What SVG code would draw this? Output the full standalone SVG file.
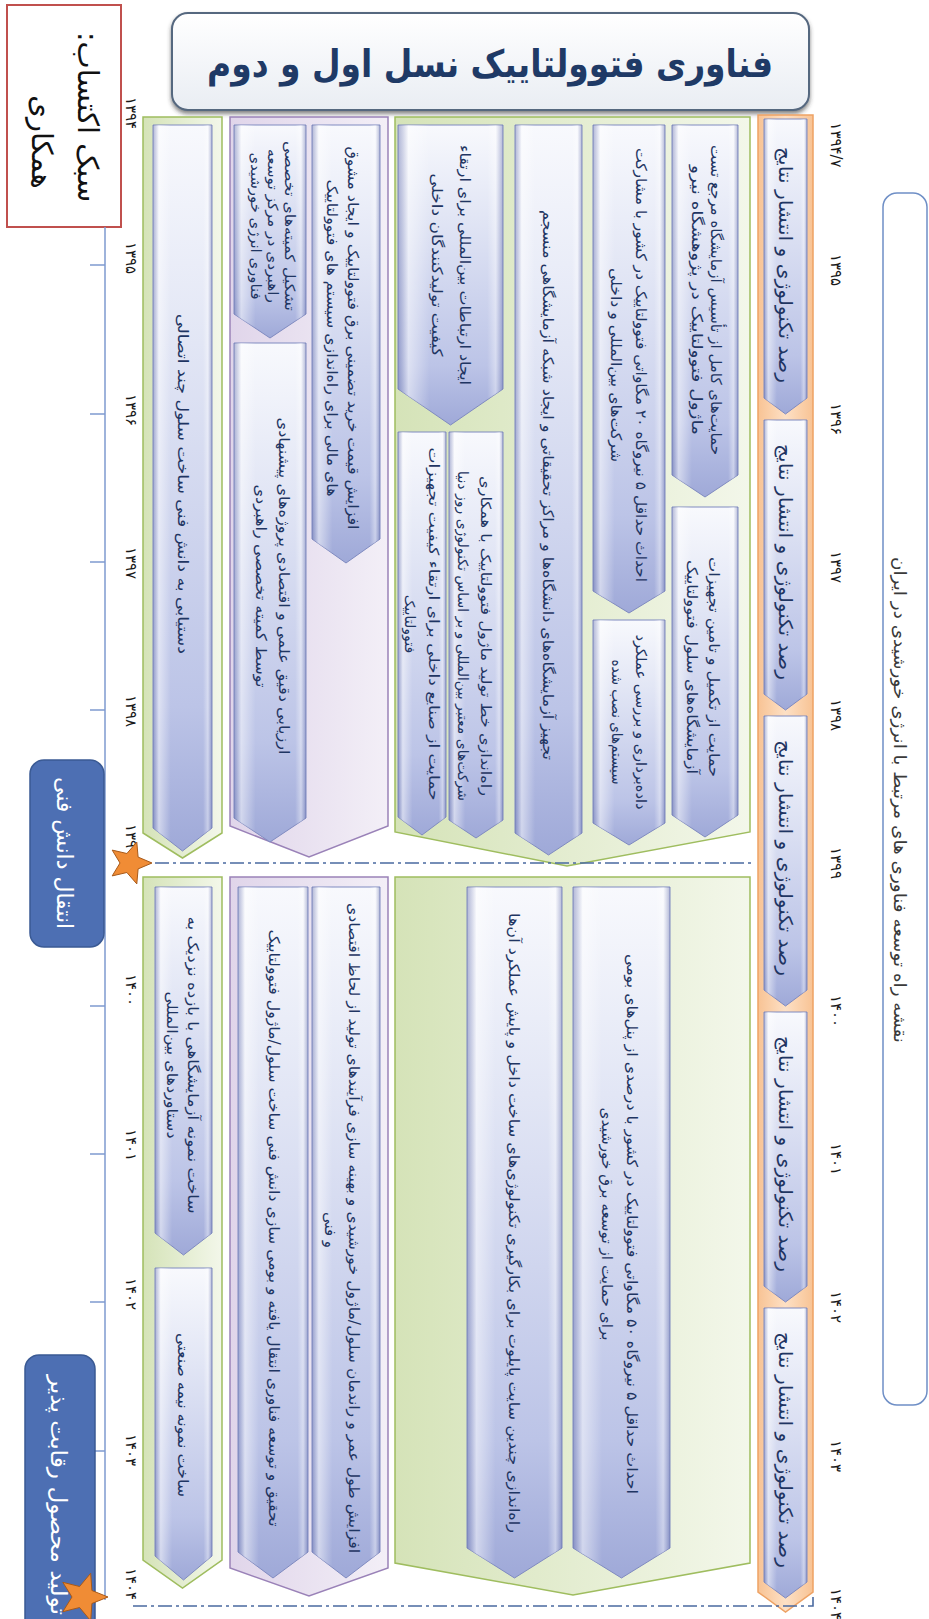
<svg xmlns="http://www.w3.org/2000/svg" width="929" height="1619" viewBox="0 0 929 1619">
<defs>
<linearGradient id="gArrow" x1="0" y1="0" x2="0" y2="1">
<stop offset="0" stop-color="#f8f9fd"/><stop offset="0.3" stop-color="#e2e6f5"/><stop offset="0.8" stop-color="#bcc4e7"/><stop offset="1" stop-color="#9fa9d8"/>
</linearGradient>
<linearGradient id="gBevel" x1="0" y1="0" x2="1" y2="0">
<stop offset="0" stop-color="#5d68a8" stop-opacity="0.45"/><stop offset="0.1" stop-color="#ffffff" stop-opacity="0.5"/><stop offset="0.3" stop-color="#ffffff" stop-opacity="0"/><stop offset="0.85" stop-color="#ffffff" stop-opacity="0"/><stop offset="0.93" stop-color="#ffffff" stop-opacity="0.4"/><stop offset="1" stop-color="#5d68a8" stop-opacity="0.45"/>
</linearGradient>
<linearGradient id="gGreen" x1="0" y1="0" x2="1" y2="0"><stop offset="0" stop-color="#d5e3b8"/><stop offset="1" stop-color="#f3f7ea"/></linearGradient>
<linearGradient id="gPurple" x1="0" y1="0" x2="1" y2="0"><stop offset="0" stop-color="#e0d5ea"/><stop offset="1" stop-color="#f3eff7"/></linearGradient>
<linearGradient id="gOrange" x1="0" y1="0" x2="1" y2="0"><stop offset="0" stop-color="#f8c394"/><stop offset="0.5" stop-color="#fde0c5"/><stop offset="1" stop-color="#f8c394"/></linearGradient>
<linearGradient id="gTitle" x1="0" y1="0" x2="0" y2="1"><stop offset="0" stop-color="#ffffff"/><stop offset="1" stop-color="#e9edf3"/></linearGradient>
<filter id="sh" x="-5%" y="-10%" width="110%" height="140%"><feDropShadow dx="0" dy="3" stdDeviation="2" flood-color="#333" flood-opacity="0.6"/></filter>
<style>
.ar{fill:url(#gArrow);stroke:#7f8ac0;stroke-width:1}
.bv{fill:url(#gBevel);stroke:none}
.gg{fill:url(#gGreen);stroke:#9fbd5f;stroke-width:1.5}
.pg{fill:url(#gPurple);stroke:#9a82b8;stroke-width:1.5}
.og{fill:url(#gOrange);stroke:#eea264;stroke-width:1.5}
.t{font-family:'DejaVu Sans',sans-serif;font-size:15px;fill:#1f3562;text-anchor:middle;dominant-baseline:central;direction:rtl}
.s{font-size:14px}
.to{font-size:19px}
.yr{font-family:'DejaVu Sans',sans-serif;font-size:15px;fill:#1a1a1a;text-anchor:middle;dominant-baseline:central}
.dash{fill:none;stroke:#4a6aa0;stroke-width:1.6;stroke-dasharray:14 4 3 4}
.star{fill:#f08c35;stroke:#a85a1a;stroke-width:1}
.bb{fill:#4d6fb3;stroke:#3a5a94;stroke-width:1.5}
.bt{font-family:'DejaVu Sans',sans-serif;font-size:22px;fill:#ffffff;text-anchor:middle;dominant-baseline:central;direction:rtl}
</style>
</defs>

<g id="method-box">
<rect x="7" y="5" width="114" height="222" fill="#ffffff" stroke="#c0504d" stroke-width="2"/>
<text class="t" style="font-size:29px;fill:#111" transform="translate(88 117) rotate(90)">سبک اکتساب:</text>
<text class="t" style="font-size:29px;fill:#111" transform="translate(42 142) rotate(90)">همکاری</text>
</g>

<g id="title">
<rect x="172" y="13" width="637" height="97" rx="16" fill="url(#gTitle)" stroke="#55677f" stroke-width="2" filter="url(#sh)"/>
<text x="490" y="64" textLength="566" lengthAdjust="spacingAndGlyphs" style="font-family:'DejaVu Sans',sans-serif;font-size:38px;font-weight:bold;fill:#1f3a66;text-anchor:middle;dominant-baseline:central;direction:rtl">فناوری فتوولتاییک نسل اول و دوم</text>
</g>

<g id="roadmap-label">
<rect x="883" y="193" width="44" height="1212" rx="14" fill="#ffffff" stroke="#6f8fc6" stroke-width="1.5"/>
<text class="t" textLength="486" lengthAdjust="spacingAndGlyphs" style="font-size:17px;fill:#3a3a3a" transform="translate(900 800) rotate(90)">نقشه راه توسعه فناوری های مرتبط با انرژی خورشیدی در ایران</text>
</g>

<g id="timeline-right">
<text class="yr" transform="translate(836 145) rotate(90)">۱۳۹۴/۷</text>
<text class="yr" transform="translate(836 270) rotate(90)">۱۳۹۵</text>
<text class="yr" transform="translate(836 419) rotate(90)">۱۳۹۶</text>
<text class="yr" transform="translate(836 567) rotate(90)">۱۳۹۷</text>
<text class="yr" transform="translate(836 715) rotate(90)">۱۳۹۸</text>
<text class="yr" transform="translate(836 863) rotate(90)">۱۳۹۹</text>
<text class="yr" transform="translate(836 1011) rotate(90)">۱۴۰۰</text>
<text class="yr" transform="translate(836 1159) rotate(90)">۱۴۰۱</text>
<text class="yr" transform="translate(836 1307) rotate(90)">۱۴۰۲</text>
<text class="yr" transform="translate(836 1456) rotate(90)">۱۴۰۳</text>
<text class="yr" transform="translate(836 1604) rotate(90)">۱۴۰۴</text>
</g>

<g id="timeline-left">
<path d="M105 227V1600M90 265H105M90 414H105M90 562H105M90 710H105M90 1006H105M90 1154H105M90 1302H105M90 1451H105" fill="none" stroke="#7f9bd0" stroke-width="1.5"/>
<text class="yr" transform="translate(131 113) rotate(90)">۱۳۹۴</text>
<text class="yr" transform="translate(131 258) rotate(90)">۱۳۹۵</text>
<text class="yr" transform="translate(131 410) rotate(90)">۱۳۹۶</text>
<text class="yr" transform="translate(131 563) rotate(90)">۱۳۹۷</text>
<text class="yr" transform="translate(131 711) rotate(90)">۱۳۹۸</text>
<text class="yr" transform="translate(131 840) rotate(90)">۱۳۹۹</text>
<text class="yr" transform="translate(131 990) rotate(90)">۱۴۰۰</text>
<text class="yr" transform="translate(131 1145) rotate(90)">۱۴۰۱</text>
<text class="yr" transform="translate(131 1294) rotate(90)">۱۴۰۲</text>
<text class="yr" transform="translate(131 1450) rotate(90)">۱۴۰۳</text>
<text class="yr" transform="translate(131 1584) rotate(90)">۱۴۰۴</text>
</g>

<g id="orange-column">
<path class="og" d="M758 115H813V1592L785.5 1612L758 1592Z"/>
<path class="ar" d="M764 119H807V398L785.5 414L764 398Z"/><path class="bv" d="M764 119H807V398L785.5 414L764 398Z"/>
<text class="t to" textLength="236" lengthAdjust="spacingAndGlyphs" transform="translate(785.5 265) rotate(90)">رصد تکنولوژی و انتشار نتایج</text>
<path class="ar" d="M764 420H807V694L785.5 710L764 694Z"/><path class="bv" d="M764 420H807V694L785.5 710L764 694Z"/>
<text class="t to" textLength="236" lengthAdjust="spacingAndGlyphs" transform="translate(785.5 562) rotate(90)">رصد تکنولوژی و انتشار نتایج</text>
<path class="ar" d="M764 716H807V990L785.5 1006L764 990Z"/><path class="bv" d="M764 716H807V990L785.5 1006L764 990Z"/>
<text class="t to" textLength="236" lengthAdjust="spacingAndGlyphs" transform="translate(785.5 858) rotate(90)">رصد تکنولوژی و انتشار نتایج</text>
<path class="ar" d="M764 1012H807V1286L785.5 1302L764 1286Z"/><path class="bv" d="M764 1012H807V1286L785.5 1302L764 1286Z"/>
<text class="t to" textLength="236" lengthAdjust="spacingAndGlyphs" transform="translate(785.5 1154) rotate(90)">رصد تکنولوژی و انتشار نتایج</text>
<path class="ar" d="M764 1308H807V1582L785.5 1598L764 1582Z"/><path class="bv" d="M764 1308H807V1582L785.5 1598L764 1582Z"/>
<text class="t to" textLength="236" lengthAdjust="spacingAndGlyphs" transform="translate(785.5 1450) rotate(90)">رصد تکنولوژی و انتشار نتایج</text>
</g>

<g id="phase1-green">
<path class="gg" d="M395 117H750V832L567 866L395 832Z"/>
<g id="a1">
<path class="ar" d="M672 125H738V475L705 497L672 475Z"/><path class="bv" d="M672 125H738V475L705 497L672 475Z"/>
<text class="t" textLength="310" lengthAdjust="spacingAndGlyphs" transform="translate(716 300) rotate(90)">حمایت&#x200C;های کامل از تأسیس آزمایشگاه مرجع تست</text>
<text class="t" textLength="270" lengthAdjust="spacingAndGlyphs" transform="translate(697 300) rotate(90)">ماژول فتوولتاییک در پژوهشگاه نیرو</text>
</g>
<g id="a2">
<path class="ar" d="M672 507H738V815L705 837L672 815Z"/><path class="bv" d="M672 507H738V815L705 837L672 815Z"/>
<text class="t" textLength="220" lengthAdjust="spacingAndGlyphs" transform="translate(714 667) rotate(90)">حمایت از تکمیل و تامین تجهیزات</text>
<text class="t" textLength="214" lengthAdjust="spacingAndGlyphs" transform="translate(692 667) rotate(90)">آزمایشگاه&#x200C;های سلول فتوولتاییک</text>
</g>
<g id="b1">
<path class="ar" d="M593 125H665V591L629 613L593 591Z"/><path class="bv" d="M593 125H665V591L629 613L593 591Z"/>
<text class="t" textLength="434" lengthAdjust="spacingAndGlyphs" transform="translate(641 365) rotate(90)">احداث حداقل ۵ نیروگاه ۲۰ مگاواتی فتوولتاییک در کشور با مشارکت</text>
<text class="t" textLength="194" lengthAdjust="spacingAndGlyphs" transform="translate(616 365) rotate(90)">شرکت&#x200C;های بین&#x200C;المللی و داخلی</text>
</g>
<g id="b2">
<path class="ar" d="M593 620H665V823L629 845L593 823Z"/><path class="bv" d="M593 620H665V823L629 845L593 823Z"/>
<text class="t" textLength="175" lengthAdjust="spacingAndGlyphs" transform="translate(641 722) rotate(90)">داده&#x200C;برداری و بررسی عملکرد</text>
<text class="t" textLength="125" lengthAdjust="spacingAndGlyphs" transform="translate(617 722) rotate(90)">سیستم&#x200C;های نصب شده</text>
</g>
<g id="c1">
<path class="ar" d="M515 125H582V833L548.5 855L515 833Z"/><path class="bv" d="M515 125H582V833L548.5 855L515 833Z"/>
<text class="t" textLength="550" lengthAdjust="spacingAndGlyphs" transform="translate(548 485) rotate(90)">تجهیز آزمایشگاه&#x200C;های دانشگاه&#x200C;ها و مراکز تحقیقاتی و ایجاد شبکه آزمایشگاهی منسجم</text>
</g>
<g id="d1">
<path class="ar" d="M398 125H503V389L450.5 425L398 389Z"/><path class="bv" d="M398 125H503V389L450.5 425L398 389Z"/>
<text class="t" textLength="240" lengthAdjust="spacingAndGlyphs" transform="translate(465 265) rotate(90)">ایجاد ارتباطات بین&#x200C;المللی برای ارتقاء</text>
<text class="t" textLength="183" lengthAdjust="spacingAndGlyphs" transform="translate(437 265) rotate(90)">کیفیت تولیدکنندگان داخلی</text>
</g>
<g id="d2">
<path class="ar" d="M449 432H503V820L476 838L449 820Z"/><path class="bv" d="M449 432H503V820L476 838L449 820Z"/>
<text class="t s" textLength="320" lengthAdjust="spacingAndGlyphs" transform="translate(486 636) rotate(90)">راه&#x200C;اندازی خط تولید ماژول فتوولتاییک با همکاری</text>
<text class="t s" textLength="330" lengthAdjust="spacingAndGlyphs" transform="translate(463 636) rotate(90)">شرکت&#x200C;های معتبر بین&#x200C;المللی و بر اساس تکنولوژی روز دنیا</text>
</g>
<g id="d3">
<path class="ar" d="M398 432H446V817L422 835L398 817Z"/><path class="bv" d="M398 432H446V817L422 835L398 817Z"/>
<text class="t s" textLength="353" lengthAdjust="spacingAndGlyphs" transform="translate(434 624) rotate(90)">حمایت از صنایع داخلی برای ارتقاء کیفیت تجهیزات</text>
<text class="t s" transform="translate(410 624) rotate(90)">فتوولتاییک</text>
</g>
</g>

<g id="phase1-purple">
<path class="pg" d="M230 117H388V826L309 857L230 826Z"/>
<g id="p1">
<path class="ar" d="M312 125H380V539L346 563L312 539Z"/><path class="bv" d="M312 125H380V539L346 563L312 539Z"/>
<text class="t" textLength="383" lengthAdjust="spacingAndGlyphs" transform="translate(353 338) rotate(90)">افزایش قیمت خرید تضمینی برق فتوولتاییک و ایجاد مشوق</text>
<text class="t" textLength="317" lengthAdjust="spacingAndGlyphs" transform="translate(332 338) rotate(90)">های مالی برای راه&#x200C;اندازی سیستم های فتوولتاییک</text>
</g>
<g id="p2a">
<path class="ar" d="M234 125H306V314L270 338L234 314Z"/><path class="bv" d="M234 125H306V314L270 338L234 314Z"/>
<text class="t s" textLength="170" lengthAdjust="spacingAndGlyphs" transform="translate(290 226) rotate(90)">تشکیل کمیته&#x200C;های تخصصی</text>
<text class="t s" textLength="154" lengthAdjust="spacingAndGlyphs" transform="translate(273 226) rotate(90)">راهبردی در مرکز توسعه</text>
<text class="t s" textLength="147" lengthAdjust="spacingAndGlyphs" transform="translate(256 226) rotate(90)">فناوری انرژی خورشیدی</text>
</g>
<g id="p2b">
<path class="ar" d="M234 343H306V818L270 842L234 818Z"/><path class="bv" d="M234 343H306V818L270 842L234 818Z"/>
<text class="t" textLength="337" lengthAdjust="spacingAndGlyphs" transform="translate(284 586) rotate(90)">ارزیابی دقیق علمی و اقتصادی پروژه&#x200C;های پیشنهادی</text>
<text class="t" textLength="203" lengthAdjust="spacingAndGlyphs" transform="translate(261 586) rotate(90)">توسط کمیته تخصصی راهبردی</text>
</g>
</g>

<g id="phase1-left">
<path class="gg" d="M143 117H222V833L182.5 858L143 833Z"/>
<g id="g1">
<path class="ar" d="M153 125H212V828L182.5 851L153 828Z"/><path class="bv" d="M153 125H212V828L182.5 851L153 828Z"/>
<text class="t" textLength="340" lengthAdjust="spacingAndGlyphs" transform="translate(182.5 484) rotate(90)">دستیابی به دانش فنی ساخت سلول چند اتصالی</text>
</g>
</g>

<g id="phase2-green">
<path class="gg" d="M395 877H750V1563L573 1595L395 1563Z"/>
<g id="r1">
<path class="ar" d="M573 887H670V1548L621.5 1578L573 1548Z"/><path class="bv" d="M573 887H670V1548L621.5 1578L573 1548Z"/>
<text class="t" textLength="540" lengthAdjust="spacingAndGlyphs" transform="translate(632 1224) rotate(90)">احداث حداقل ۵ نیروگاه ۵۰ مگاواتی فتوولتاییک در کشور با درصدی از پنل&#x200C;های بومی</text>
<text class="t" textLength="233" lengthAdjust="spacingAndGlyphs" transform="translate(607 1224) rotate(90)">برای حمایت از توسعه برق خورشیدی</text>
</g>
<g id="r2">
<path class="ar" d="M467 887H562V1548L514.5 1578L467 1548Z"/><path class="bv" d="M467 887H562V1548L514.5 1578L467 1548Z"/>
<text class="t" textLength="620" lengthAdjust="spacingAndGlyphs" transform="translate(514 1223) rotate(90)">راه&#x200C;اندازی چندین سایت پایلوت برای بکارگیری تکنولوژی&#x200C;های ساخت داخل و پایش عملکرد آن&#x200C;ها</text>
</g>
</g>

<g id="phase2-purple">
<path class="pg" d="M230 877H388V1568L309 1596L230 1568Z"/>
<g id="q1">
<path class="ar" d="M312 887H380V1552L346 1578L312 1552Z"/><path class="bv" d="M312 887H380V1552L346 1578L312 1552Z"/>
<text class="t" textLength="650" lengthAdjust="spacingAndGlyphs" transform="translate(354 1228) rotate(90)">افزایش طول عمر و راندمان سلول/ماژول خورشیدی و بهینه سازی فرآیندهای تولید از لحاظ اقتصادی</text>
<text class="t" transform="translate(330 1230) rotate(90)">و فنی</text>
</g>
<g id="q2">
<path class="ar" d="M238 887H308V1552L273 1578L238 1552Z"/><path class="bv" d="M238 887H308V1552L273 1578L238 1552Z"/>
<text class="t" textLength="597" lengthAdjust="spacingAndGlyphs" transform="translate(274 1228) rotate(90)">تحقیق و توسعه فناوری انتقال یافته و بومی سازی دانش فنی ساخت سلول/ماژول فتوولتاییک</text>
</g>
</g>

<g id="phase2-left">
<path class="gg" d="M143 877H222V1560L182.5 1588L143 1560Z"/>
<g id="g2">
<path class="ar" d="M155 887H212V1233L183.5 1255L155 1233Z"/><path class="bv" d="M155 887H212V1233L183.5 1255L155 1233Z"/>
<text class="t" textLength="297" lengthAdjust="spacingAndGlyphs" transform="translate(193 1065) rotate(90)">ساخت نمونه آزمایشگاهی با بازده نزدیک به</text>
<text class="t" textLength="147" lengthAdjust="spacingAndGlyphs" transform="translate(172 1065) rotate(90)">دستاوردهای بین&#x200C;المللی</text>
</g>
<g id="g3">
<path class="ar" d="M155 1268H212V1556L183.5 1580L155 1556Z"/><path class="bv" d="M155 1268H212V1556L183.5 1580L155 1556Z"/>
<text class="t" textLength="164" lengthAdjust="spacingAndGlyphs" transform="translate(183 1415) rotate(90)">ساخت نمونه نیمه صنعتی</text>
</g>
</g>

<g id="connectors">
<path class="dash" d="M130 863H752"/>
<path class="dash" d="M133 1606H813V1594"/>
</g>

<g id="milestone-1">
<rect class="bb" x="30" y="760" width="74" height="187" rx="14"/>
<text class="bt" transform="translate(64 853) rotate(90)">انتقال دانش فنی</text>
<polygon class="star" points="152,863 138.1,868.9 136.8,883.9 126.9,872.5 112.2,875.9 120,863 112.2,850.1 126.9,853.5 136.8,842.1 138.1,857.1"/>
</g>

<g id="milestone-2">
<rect class="bb" x="25" y="1355" width="70" height="280" rx="14"/>
<text class="bt" textLength="240" lengthAdjust="spacingAndGlyphs" transform="translate(58 1495) rotate(90)">تولید محصول رقابت پذیر</text>
<polygon class="star" points="108,1597 91.9,1603.5 90.7,1620.8 79.6,1607.5 62.8,1611.7 72,1597 62.8,1582.3 79.6,1586.5 90.7,1573.2 91.9,1590.5"/>
</g>
</svg>
